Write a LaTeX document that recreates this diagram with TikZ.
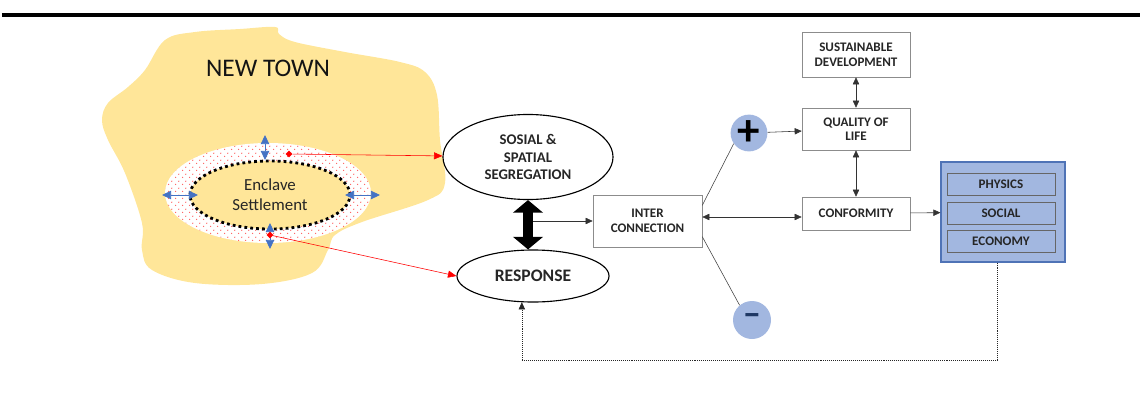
\documentclass[tikz,border=0pt]{standalone}
\usepackage{fontspec}
\setmainfont{Carlito}
\usepackage{tikz}
\usetikzlibrary{shapes,arrows.meta,patterns.meta,positioning}
\definecolor{Sand}{HTML}{FFE699}
\definecolor{Steel}{HTML}{A2B7E0}
\definecolor{SteelLine}{HTML}{4F73B6}
\definecolor{Azure}{HTML}{4472C4}
\definecolor{Navy}{HTML}{1F3864}
\tikzdeclarepattern{name=specks, type=uncolored, bounding box={(0,0) and (4.75pt,4.75pt)}, tile size={(4.75pt,4.75pt)},
	code={\fill (1.2pt,1.2pt) circle (0.5pt); \fill (3.575pt,3.575pt) circle (0.5pt);}}

\begin{document}
\begin{tikzpicture}[x=0.025cm, y=-0.025cm]
	\tikzstyle{Oval}	= [ellipse, draw, thick, align=center, inner sep=0pt, text=black!85, font=\fontsize{10.5}{12.6}\selectfont\bfseries]
	\tikzstyle{Box}		= [rectangle, draw=black!45, fill=white, align=center, inner sep=0pt, minimum width=2.7cm, text=black!85, font=\fontsize{9.3}{10.7}\selectfont\bfseries]
	\tikzstyle{Layer}	= [Box, draw=black!60, fill=Steel, minimum height=0.55cm]
	\tikzstyle{Sign}	= [circle, fill=Steel, inner sep=0pt, minimum size=0.92cm]
	\tikzstyle{Pin}		= [diamond, fill=red, inner sep=0pt, minimum size=5pt]
	\tikzstyle{Line}	= [black!75]
	\tikzstyle{Link}	= [black!80, -{Triangle[length=5pt,width=4.5pt]}]
	\tikzstyle{Both}	= [black!80, {Triangle[length=5pt,width=4.5pt]}-{Triangle[length=5pt,width=4.5pt]}]
	\tikzstyle{Red}		= [red, -{Triangle[length=6pt,width=5pt]}]
	\tikzstyle{Push}	= [Azure, semithick, {Triangle[length=6.5pt,width=6pt]}-{Triangle[length=6.5pt,width=6pt]}]
	\tikzstyle{Fat}		= [line width=7.5pt, {Triangle[length=9pt,width=21pt]}-{Triangle[length=9pt,width=21pt]}]
	\tikzstyle{Back}	= [densely dotted, black!85, -{Triangle[length=5pt,width=4.5pt]}]

	\useasboundingbox (0,0) rectangle (1140,409);
	\draw [line width=2.85pt] (2,15) -- (1140,15);

	% new town and the enclave
	\fill [Sand] plot [smooth cycle, tension=0.6] coordinates {(165,40) (195,32) (240,29) (275,27) (279,34) (295,42) (345,52) (400,62) (425,72) (437,95) (440,140) (445,183) (428,200) (362,222) (335,235) (328,250) (312,273) (262,284) (195,283) (152,270) (142,250) (142,223) (125,173) (108,140) (102,120) (108,103) (128,87) (145,70)};
	\fill [white] (268,193) ellipse (103 and 50);
	\fill [pattern={specks}, pattern color=red!65] (268,193) ellipse (103 and 50);

	\node (town) at (268,68) [text=black!92, font=\fontsize{18}{20}\selectfont] {NEW TOWN};
	\node (enclave) at (270,195) [ellipse, draw, line width=2pt, dash pattern=on 2pt off 2.2pt, fill=Sand, minimum width=4cm, minimum height=1.7cm, inner sep=0pt, align=center, text=black!85, font=\fontsize{12}{14}\selectfont] {Enclave\\Settlement};

	\draw [Push] (265,135) -- (265,160);
	\draw [Push] (162,195) -- (198,195);
	\draw [Push] (345,195) -- (380,195);
	\draw [Push] (270,223) -- (270,249);

	\node (d1) at (289,154) [Pin] {};
	\node (d2) at (270,235) [Pin] {};

	% middle
	\node (sosial) at (528,157) [Oval][minimum width=4.25cm, minimum height=2.125cm] {SOSIAL \&\\SPATIAL\\SEGREGATION};
	\node (response) at (533,276) [Oval][minimum width=3.8cm, minimum height=1.3cm, font=\fontsize{12.5}{14}\selectfont\bfseries] {RESPONSE};
	\node (inter) at (647.5,221) [Box][minimum width=2.725cm, minimum height=1.3cm] {INTER\\CONNECTION};
	\coordinate (hub) at (533,221);

	\node (plus) at (749,133) [Sign] {\fontsize{32}{32}\selectfont\bfseries +};
	\node (minus) at (752,320) [Sign][minimum size=0.95cm, text=Navy] {\fontsize{26}{26}\selectfont\bfseries –};

	% right
	\node (sd) at (856,54.5) [Box][minimum height=1.125cm] {SUSTAINABLE\\DEVELOPMENT};
	\node (qol) at (856,129) [Box][minimum height=1.05cm, font=\fontsize{9.3}{10}\selectfont\bfseries] {QUALITY OF\\LIFE};
	\node (conf) at (856,213.5) [Box][minimum height=0.825cm] {CONFORMITY};

	\node (dims) at (1003,212) [rectangle, draw=SteelLine, thick, fill=Steel, minimum width=3.1cm, minimum height=2.5cm] {};
	\node (physics) at (1001,184.5) [Layer] {PHYSICS};
	\node (social) at (1001,213) [Layer] {SOCIAL};
	\node (economy) at (1001,241) [Layer] {ECONOMY};

	\draw [-] (d1) to (sosial) [Red];
	\draw [-] (d2) to (response.west) [Red];
	\draw [-] (hub) to (inter) [Link];
	\draw [-] (sosial.south) to (sosial.south |- response.north) [Fat];
	\draw [-] (inter.16) to (plus.215) [Line];
	\draw [-] (inter.-16) to (minus.130) [Line];
	\draw [-] (plus) to (qol) [Link];
	\draw [-] (sd) to (qol) [Both];
	\draw [-] (qol) to (conf) [Both];
	\draw [-] (inter.east |- 0,217) to (conf.west |- 0,217) [Both];
	\draw [-] (conf) to (dims) [Link];
	\draw (dims.-96) -- ++(0,98) -| (response.-113) [Back];
\end{tikzpicture}
\end{document}
